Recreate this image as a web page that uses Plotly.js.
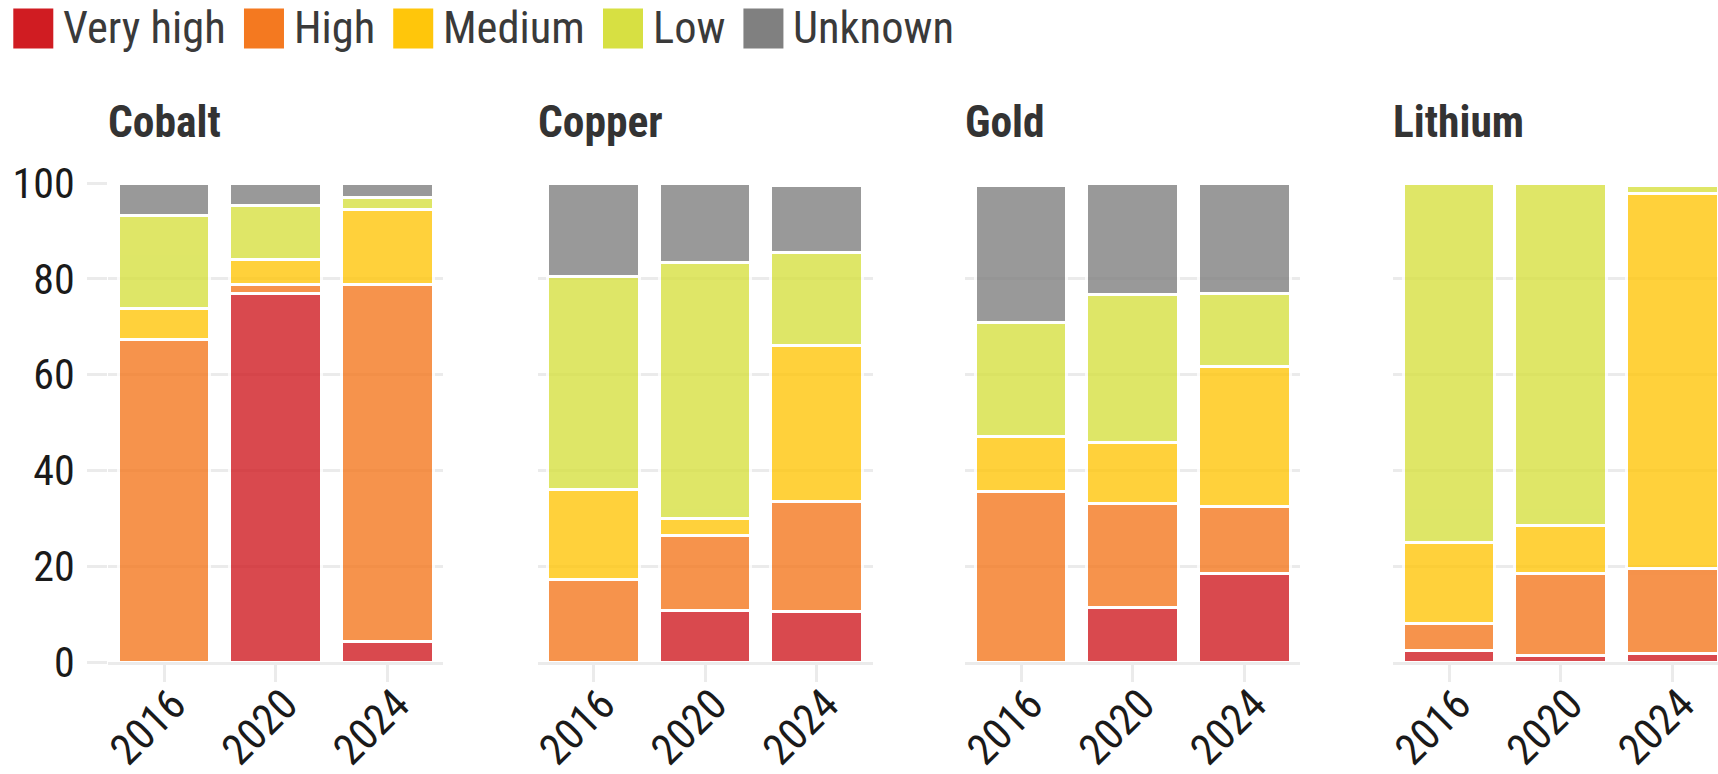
<!DOCTYPE html>
<html>
<head>
<meta charset="utf-8">
<script src="https://cdn.plot.ly/plotly-3.0.1.min.js"></script>
<style>
html,body{margin:0;padding:0;background:#fff;overflow:hidden;}
#chart{width:1718px;height:774px;}
</style>
</head>
<body>
<div id="chart"></div>
<script>
// ---------- data ----------
const minerals = ['Cobalt', 'Copper', 'Gold', 'Lithium'];
const years = ['2016', '2020', '2024'];
const levels = ['Very high', 'High', 'Medium', 'Low', 'Unknown'];
const palette = ['#d01c22', '#f47920', '#ffc60b', '#d7e042', '#808080'];
// share (%) per mineral x year: Cobalt 2016/2020/2024, Copper ..., Gold ..., Lithium ...
const veryHigh = [0, 76.9, 4.2,   0, 10.7, 10.5,   0, 11.4, 18.4,   2.5, 1.4, 1.8];
const high     = [67.3, 1.9, 74.7, 17.3, 15.8, 23.0, 35.7, 21.6, 14.1, 5.6, 17.1, 17.8];
const medium   = [6.6, 5.3, 15.6, 18.8, 3.5, 32.6,  11.4, 12.9, 29.2, 16.8, 9.9, 78.3];
const low      = [19.4, 11.3, 2.5, 44.3, 53.4, 19.4, 23.8, 30.9, 15.2, 75.1, 71.6, 1.6];
const unknown  = [6.7, 4.6, 3.0,  19.6, 16.6, 14.0, 28.6, 23.2, 23.1, 0, 0, 0];
const yTicks = [0, 20, 40, 60, 80, 100];

// ---------- font choice ----------
function fontAvailable(name) {
  const c = document.createElement('canvas').getContext('2d');
  const s = 'Very high Unknown 2016 Cobalt Lithium';
  return ['monospace', 'serif'].some(g => {
    c.font = '40px ' + g; const a = c.measureText(s).width;
    c.font = '40px "' + name + '", ' + g; return c.measureText(s).width !== a;
  });
}
const fontOptions = [
  {f: 'Roboto Condensed', s: 1},
  {f: 'Liberation Sans Narrow', s: 1},
  {f: 'Roboto', s: 0.88}
];
const FO = fontOptions.find(o => fontAvailable(o.f)) || fontOptions[2];
const FONT = '"' + FO.f + '", Roboto, sans-serif';
const SZ = v => Math.round(v * FO.s * 2) / 2;

// ---------- layout geometry ----------
const W = 1718, H = 774;
const px = x => x / W;
const py = y => (H - y) / H;
const panelLeft = [108.2, 537.5, 965.2, 1393.2];
const panelWidth = 335.1;           // 3 categories
const catPx = panelWidth / 3;
const yDom = [py(662), py(183)];
const gridCol = '#ebebeb';

const seriesByLevel = [veryHigh, high, medium, low, unknown];
const data = [];
const layout = {
  width: W, height: H,
  margin: {l: 0, r: 0, t: 0, b: 0},
  paper_bgcolor: '#fff', plot_bgcolor: '#fff',
  barmode: 'stack', bargap: 0.18,
  showlegend: false,
  font: {family: FONT, color: '#1a1a1a'},
  annotations: [], shapes: []
};

minerals.forEach((m, i) => {
  const sfx = i === 0 ? '' : String(i + 1);
  const left = panelLeft[i];
  const right = Math.min(left + panelWidth, W);
  const rEnd = -0.5 + (right - left) / catPx;
  layout['xaxis' + sfx] = {
    domain: [px(left), px(right)], anchor: 'y' + sfx,
    type: 'category', range: [-0.5, rEnd],
    showline: true, linecolor: gridCol, linewidth: 3,
    ticks: 'outside', ticklen: 17, tickwidth: 3, tickcolor: gridCol,
    tickangle: -45, ticklabelstandoff: -20, ticklabelshift: 9,
    tickfont: {family: FONT, size: SZ(43), color: '#1a1a1a'},
    showgrid: false, zeroline: false, fixedrange: true
  };
  layout['yaxis' + sfx] = {
    domain: yDom, anchor: 'x' + sfx, range: [0, 100],
    tickvals: yTicks, showgrid: true, gridcolor: gridCol, gridwidth: 3,
    zeroline: false, showline: false,
    showticklabels: i === 0,
    ticks: i === 0 ? 'outside' : '', ticklen: 20, tickwidth: 3, tickcolor: gridCol,
    ticklabelstandoff: 4,
    tickfont: {family: FONT, size: SZ(42), color: '#1a1a1a'},
    fixedrange: true
  };
  seriesByLevel.forEach((arr, k) => {
    data.push({
      type: 'bar', name: levels[k],
      x: years, y: arr.slice(3 * i, 3 * i + 3),
      xaxis: 'x' + sfx, yaxis: 'y' + sfx,
      marker: {color: palette[k], opacity: 0.8, line: {color: '#ffffff', width: 3}},
      hovertemplate: m + ' %{x}<br>' + levels[k] + ': %{y}%<extra></extra>'
    });
  });
  layout.annotations.push({
    text: '<b>' + m + '</b>', xref: 'paper', yref: 'paper',
    x: px(left - 2), y: py(123), xanchor: 'left', yanchor: 'middle',
    showarrow: false, font: {family: FONT, size: SZ(43.5), color: '#333333'}
  });
});

// ---------- legend (large square keys) ----------
(function () {
  const c = document.createElement('canvas').getContext('2d');
  const lsz = SZ(44.5);
  c.font = lsz + 'px ' + FONT;
  let x = 13.3;
  levels.forEach((lab, k) => {
    layout.shapes.push({
      type: 'rect', xref: 'paper', yref: 'paper',
      x0: px(x), x1: px(x + 40), y0: py(48.5), y1: py(8.5),
      fillcolor: palette[k], line: {width: 0}
    });
    const tx = x + 40 + 8;
    layout.annotations.push({
      text: lab, xref: 'paper', yref: 'paper', x: px(tx), y: py(28.5),
      xanchor: 'left', yanchor: 'middle', showarrow: false,
      font: {family: FONT, size: lsz, color: '#3a3a3a'}
    });
    x = tx + 2 + c.measureText(lab).width + 18;
  });
})();

Plotly.newPlot('chart', data, layout, {displayModeBar: false, responsive: false});
</script>
</body>
</html>
